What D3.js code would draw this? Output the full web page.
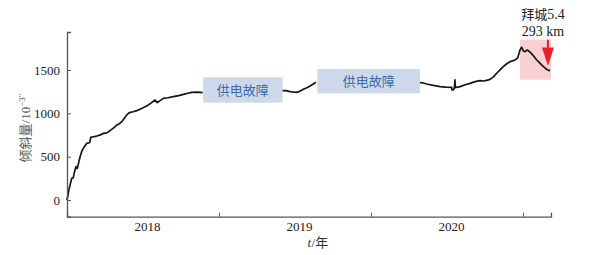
<!DOCTYPE html>
<html>
<head>
<meta charset="utf-8">
<script src="https://cdn.jsdelivr.net/npm/d3@7"></script>
<style>
  body { margin: 0; background: #fff; }
  svg { display: block; }
</style>
</head>
<body>
<div id="chart"></div>
<script>
// tilt record, decimal years vs 10^-3 arc seconds, three pieces split by power failures
const seg1Years = [2018.000, 2018.013, 2018.031, 2018.041, 2018.050, 2018.059, 2018.068, 2018.078, 2018.086, 2018.097,
  2018.107, 2018.120, 2018.130, 2018.147, 2018.150, 2018.156, 2018.175, 2018.195, 2018.215, 2018.239, 2018.262, 2018.283,
  2018.305, 2018.327, 2018.345, 2018.360, 2018.380, 2018.393, 2018.410, 2018.435, 2018.459, 2018.490, 2018.524, 2018.550,
  2018.579, 2018.594, 2018.615, 2018.634, 2018.665, 2018.699, 2018.735, 2018.766, 2018.795, 2018.820, 2018.860, 2018.893]
const seg1Values = [0, 120, 250, 255, 330, 385, 365, 440, 500, 560,
  596, 630, 654, 661, 668, 723, 730, 738, 748, 769, 775, 800,
  830, 865, 880, 904, 950, 981, 1008, 1018, 1031, 1055, 1085, 1115,
  1154, 1123, 1150, 1173, 1180, 1192, 1205, 1219, 1232, 1242, 1245, 1238]

const seg2Years = [2019.413, 2019.440, 2019.467, 2019.490, 2019.511, 2019.535, 2019.555, 2019.585, 2019.610, 2019.638]
const seg2Values = [1261, 1262, 1250, 1246, 1242, 1258, 1277, 1300, 1327, 1358]

const seg3Years = [2020.322, 2020.345, 2020.366, 2020.410, 2020.454, 2020.490, 2020.531, 2020.532, 2020.541, 2020.548,
  2020.552, 2020.555, 2020.560, 2020.586, 2020.620, 2020.651, 2020.685, 2020.717, 2020.739, 2020.760, 2020.783, 2020.805,
  2020.827, 2020.850, 2020.870, 2020.895, 2020.914, 2020.935, 2020.947, 2020.965, 2020.980, 2020.991, 2021.002, 2021.013,
  2021.025, 2021.035, 2021.057, 2021.075, 2021.090, 2021.105, 2021.122, 2021.140, 2021.155, 2021.170, 2021.178]
const seg3Values = [1354, 1350, 1338, 1322, 1308, 1302, 1300, 1269, 1269, 1290,
  1385, 1295, 1300, 1308, 1330, 1346, 1366, 1377, 1373, 1380, 1392, 1420,
  1462, 1505, 1538, 1575, 1596, 1608, 1615, 1640, 1731, 1762, 1720, 1711,
  1730, 1723, 1685, 1650, 1615, 1590, 1558, 1530, 1508, 1495, 1492]

const yTicks = [0, 500, 1000, 1500]
const yearTicks = [2019, 2020, 2021]
const yearLabels = ['2018', '2019', '2020']
const yearLabelAt = [2018.53, 2019.53, 2020.53]

// gaps (power failure) and the highlighted anomaly
const gapStart = [2018.896, 2019.647]
const gapEnd = [2019.418, 2020.322]
const gapTop = [1416, 1512]
const gapBottom = [1123, 1231]
const gapText = ['供电故障', '供电故障']
const anomaly = [2020.980, 2021.184, 1387, 1850]
const quakeYear = 2021.164
const quakeName = '拜城'
const quakeMag = '5.4'
const quakeDist = '293 km'

const width = 594
const height = 255

const svg = d3.select('#chart').append('svg')
  .attr('width', width)
  .attr('height', height)

const x = d3.scaleLinear().domain([2018.0, 2021.184]).range([67, 551])
const y = d3.scaleLinear().domain([-192, 1938]).range([216.7, 32])

const serif = '"Liberation Serif", "Times New Roman", serif'
const cjk = '"Noto Sans CJK SC", sans-serif'

// anomaly highlight behind the line
svg.append('rect')
  .attr('x', x(anomaly[0]))
  .attr('y', y(anomaly[3]))
  .attr('width', x(anomaly[1]) - x(anomaly[0]))
  .attr('height', y(anomaly[2]) - y(anomaly[3]))
  .attr('fill', '#f9d0d4')

const line = d3.line().x(d => x(d[0])).y(d => y(d[1]))
const segs = [
  d3.zip(seg1Years, seg1Values),
  d3.zip(seg2Years, seg2Values),
  d3.zip(seg3Years, seg3Values)
]
svg.selectAll('path.trace')
  .data(segs)
  .enter().append('path')
  .attr('class', 'trace')
  .attr('d', line)
  .attr('fill', 'none')
  .attr('stroke', '#151515')
  .attr('stroke-width', 1.7)
  .attr('stroke-linejoin', 'round')

// power failure boxes
gapStart.forEach((s, i) => {
  svg.append('rect')
    .attr('x', x(s))
    .attr('y', y(gapTop[i]))
    .attr('width', x(gapEnd[i]) - x(s))
    .attr('height', y(gapBottom[i]) - y(gapTop[i]))
    .attr('fill', '#cdd9eb')
  svg.append('text')
    .attr('x', (x(s) + x(gapEnd[i])) / 2)
    .attr('y', (y(gapTop[i]) + y(gapBottom[i])) / 2 + 5)
    .attr('text-anchor', 'middle')
    .attr('font-family', cjk)
    .attr('font-size', 13)
    .attr('fill', '#4467ad')
    .text(gapText[i])
})

// axes
const axisColor = '#555'
const yAxis = svg.append('g')
  .attr('transform', `translate(${x.range()[0]},0)`)
  .call(d3.axisRight(y).tickValues(yTicks).tickSize(4).tickFormat(d3.format('d')))
yAxis.select('.domain').attr('stroke', axisColor).attr('stroke-width', 1.3)
yAxis.selectAll('.tick line').attr('stroke', axisColor)
yAxis.selectAll('.tick text')
  .attr('x', -7)
  .attr('text-anchor', 'end')
  .attr('font-family', serif)
  .attr('font-size', 13)
  .attr('fill', '#222')

const xAxis = svg.append('g')
  .attr('transform', `translate(0,${y.range()[0]})`)
  .call(d3.axisTop(x).tickValues(yearTicks).tickSize(4).tickFormat(''))
xAxis.select('.domain').attr('stroke', axisColor).attr('stroke-width', 1.3)
xAxis.selectAll('.tick line').attr('stroke', axisColor)

svg.selectAll('text.year')
  .data(yearLabels)
  .enter().append('text')
  .attr('class', 'year')
  .attr('x', (d, i) => x(yearLabelAt[i]))
  .attr('y', y.range()[0] + 14)
  .attr('text-anchor', 'middle')
  .attr('font-family', serif)
  .attr('font-size', 13)
  .attr('fill', '#222')
  .text(d => d)

// axis titles: italic t kept apart from "/年"
svg.append('text')
  .attr('x', 311)
  .attr('y', 247)
  .attr('text-anchor', 'end')
  .attr('font-family', serif)
  .attr('font-style', 'italic')
  .attr('font-size', 13)
  .attr('fill', '#333')
  .text('t')
const xt = svg.append('text')
  .attr('x', 311.5)
  .attr('y', 247)
  .attr('font-size', 13)
  .attr('fill', '#333')
xt.append('tspan').attr('font-family', serif).text('/')
xt.append('tspan').attr('font-family', cjk).text('年')

const yt = svg.append('text')
  .attr('transform', 'translate(30,128) rotate(-90)')
  .attr('text-anchor', 'middle')
  .attr('font-size', 13)
  .attr('fill', '#555')
yt.append('tspan').attr('font-family', cjk).text('倾斜量')
yt.append('tspan').attr('font-family', serif).text('/10')
yt.append('tspan').attr('font-family', serif).attr('font-size', 9).attr('dy', -5).text('−3″')

// earthquake marker
const qx = x(quakeYear)
svg.append('line')
  .attr('x1', qx).attr('x2', qx)
  .attr('y1', y(anomaly[3])).attr('y2', y(1650))
  .attr('stroke', '#e8202a')
  .attr('stroke-width', 2)
svg.append('path')
  .attr('d', `M${qx - 6},${y(1760)} L${qx + 6},${y(1760)} L${qx},${y(1550)} Z`)
  .attr('fill', '#e8202a')

const q1 = svg.append('text')
  .attr('x', qx - 5)
  .attr('y', 19)
  .attr('text-anchor', 'middle')
  .attr('font-size', 13)
  .attr('fill', '#222')
q1.append('tspan').attr('font-family', cjk).text(quakeName)
q1.append('tspan').attr('font-family', serif).attr('font-size', 14).text(quakeMag)
svg.append('text')
  .attr('x', qx - 5)
  .attr('y', 36)
  .attr('text-anchor', 'middle')
  .attr('font-family', serif)
  .attr('font-size', 14)
  .attr('fill', '#222')
  .text(quakeDist)
</script>
</body>
</html>
